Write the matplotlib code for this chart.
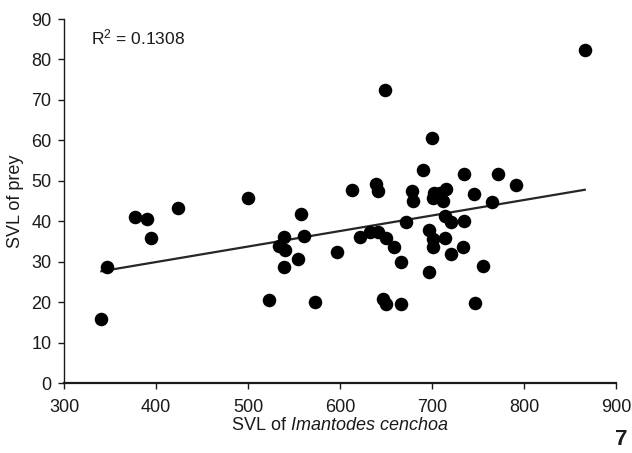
import matplotlib
matplotlib.use("Agg")
from matplotlib import pyplot as plt
import numpy as np

plt.rcParams['font.family'] = ['Liberation Sans', 'DejaVu Sans']
plt.rcParams['mathtext.fontset'] = 'custom'
plt.rcParams['mathtext.rm'] = 'Liberation Sans'
plt.rcParams['mathtext.it'] = 'Liberation Sans:italic'

# SVL of Imantodes cenchoa (mm) vs SVL of prey (mm)
snake_svl = [340.6, 346.7, 377.5, 390.6, 394.2, 424.3, 499.6, 522.5, 534.0, 539.1,
             539.9, 539.1, 554.3, 557.3, 560.5, 573.2, 597.1, 613.4, 622.1, 633.0,
             641.6, 638.8, 641.0, 646.4, 649.6, 649.3, 650.5, 658.2, 666.3, 666.3,
             671.4, 678.4, 679.0, 689.9, 696.5, 697.1, 700.0, 701.4, 701.1, 702.5,
             701.4, 708.7, 714.9, 712.3, 714.1, 720.3, 714.1, 720.1, 734.0, 735.1,
             735.1, 745.3, 746.4, 755.1, 765.2, 771.4, 791.3, 866.0]
prey_svl = [15.8, 28.7, 41.1, 40.6, 35.9, 43.3, 45.8, 20.5, 34.0, 36.0,
            32.8, 28.8, 30.6, 41.8, 36.4, 20.1, 32.3, 47.8, 36.2, 37.4,
            37.4, 49.2, 47.4, 20.8, 19.6, 72.5, 35.8, 33.7, 29.9, 19.6,
            39.9, 47.4, 45.0, 52.7, 37.9, 27.4, 60.6, 35.7, 33.7, 46.9,
            45.7, 46.9, 47.9, 44.9, 41.2, 39.9, 35.8, 31.8, 33.6, 40.1,
            51.7, 46.7, 19.7, 28.9, 44.8, 51.7, 48.9, 82.3]
r2_text = "R$^{2}$ = 0.1308"
x_ticks = [300, 400, 500, 600, 700, 800, 900]
y_ticks = [0, 10, 20, 30, 40, 50, 60, 70, 80, 90]

ink = '#1a1a1a'
x = np.array(snake_svl)
y = np.array(prey_svl)

fig = plt.figure(figsize=(6.32, 4.53), dpi=100)
ax = fig.add_axes([0.1013, 0.1545, 0.8734, 0.8035])

ax.scatter(x, y, s=95, color='black', zorder=3, linewidths=0)

k, b = np.polyfit(x, y, 1)
xs = np.array([x.min(), x.max()])
ax.plot(xs, k * xs + b, color='#262626', linewidth=1.6, zorder=2)

ax.set_xlim(300, 900)
ax.set_ylim(0, 90)
ax.set_xticks(x_ticks)
ax.set_yticks(y_ticks)

for side in ('top', 'right'):
    ax.spines[side].set_visible(False)
ax.spines['left'].set_color(ink)
ax.spines['left'].set_linewidth(1.0)
ax.spines['bottom'].set_color(ink)
ax.spines['bottom'].set_linewidth(1.6)

ax.tick_params(axis='both', direction='out', width=1, color=ink,
               labelcolor=ink, labelsize=13)
ax.tick_params(axis='x', length=4.5, pad=7)
ax.tick_params(axis='y', length=4, pad=5)

ax.set_xlabel('SVL of $\\mathit{Imantodes\\ cenchoa}$', fontsize=13, color=ink, labelpad=0.5)
ax.set_ylabel('SVL of prey', fontsize=13, color=ink, labelpad=5)

ax.text(0.048, 0.976, r2_text, transform=ax.transAxes, fontsize=12.5,
        color=ink, va='top', ha='left')

fig.text(0.993, 0.006, '7', fontsize=16, fontweight='bold', color=ink,
         ha='right', va='bottom')

fig.savefig('out.png', dpi=100)
